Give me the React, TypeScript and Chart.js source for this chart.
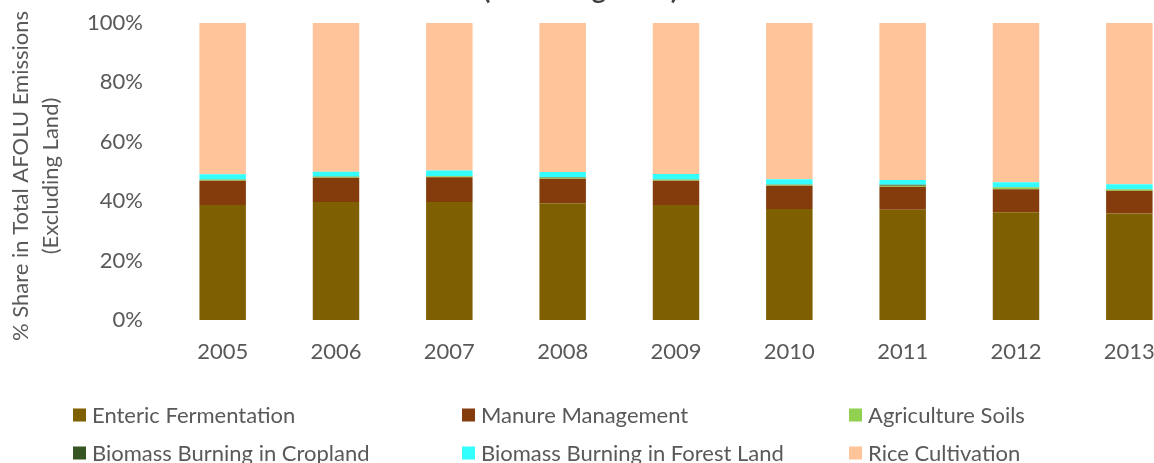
import React, { useEffect, useRef } from "react";
import { Chart, registerables } from "chart.js";

Chart.register(...registerables);

const years = ["2005", "2006", "2007", "2008", "2009", "2010", "2011", "2012", "2013"];
const enteric = [38.7, 39.7, 39.7, 39.3, 38.7, 37.4, 37.1, 36.3, 35.9];
const manure = [8.2, 8.2, 8.4, 8.3, 8.2, 7.8, 7.8, 7.7, 7.6];
const soils = [0.3, 0.3, 0.3, 0.3, 0.3, 0.3, 0.3, 0.6, 0.4];
const cropland = [0.1, 0.1, 0.1, 0.2, 0.1, 0.1, 0.3, 0.1, 0.1];
const forest = [1.8, 1.6, 1.8, 1.7, 1.9, 1.8, 1.6, 1.7, 1.7];
const rice = [50.9, 50.1, 49.7, 50.2, 50.8, 52.6, 52.9, 53.6, 54.3];

const seriesNames = [
  "Enteric Fermentation",
  "Manure Management",
  "Agriculture Soils",
  "Biomass Burning in Cropland",
  "Biomass Burning in Forest Land",
  "Rice Cultivation",
];
const seriesColors = ["#7F6000", "#843C0C", "#92D050", "#375623", "#33FFFF", "#FFC499"];
const yTicks = [0, 20, 40, 60, 80, 100];
const titleText = "(Excluding Land)";
const yTitleLines = ["% Share in Total AFOLU Emissions", "(Excluding Land)"];

const FONT = "Lato, 'Open Sans', sans-serif";
const TEXT = "#595959";
const FS = 22;

const decorPlugin = {
  id: "decor",
  afterDraw(chart: any) {
    const ctx = chart.ctx;
    ctx.save();
    // clipped title
    ctx.fillStyle = "#404040";
    ctx.font = `bold 27px ${FONT}`;
    ctx.textAlign = "left";
    ctx.textBaseline = "alphabetic";
    ctx.fillText(titleText, 483, -1);
    // y-axis title
    ctx.font = `${FS}px ${FONT}`;
    ctx.fillStyle = TEXT;
    ctx.textAlign = "center";
    const xs = [28, 58];
    yTitleLines.forEach((line, i) => {
      ctx.save();
      ctx.translate(xs[i], 176);
      ctx.rotate(-Math.PI / 2);
      ctx.fillText(line, 0, 0);
      ctx.restore();
    });
    // legend
    const cols = [73, 462, 849];
    const rows = [415, 453];
    ctx.font = `${FS}px ${FONT}`;
    ctx.textAlign = "left";
    ctx.textBaseline = "middle";
    chart.data.datasets.forEach((ds: any, i: number) => {
      const x = cols[i % 3];
      const y = rows[Math.floor(i / 3)];
      ctx.fillStyle = ds.backgroundColor;
      ctx.fillRect(x, y - 6.5, 13, 13);
      ctx.fillStyle = TEXT;
      ctx.fillText(ds.label, x + 19, y + 1);
    });
    ctx.restore();
  },
};

export default function App() {
  const ref = useRef<HTMLCanvasElement>(null);
  useEffect(() => {
    const allSeries = [enteric, manure, soils, cropland, forest, rice];
    const chart = new Chart(ref.current!, {
      type: "bar",
      data: {
        labels: years,
        datasets: allSeries.map((d, i) => ({
          label: seriesNames[i],
          data: d,
          backgroundColor: seriesColors[i],
          borderWidth: 0,
          barPercentage: 0.41,
          categoryPercentage: 1,
        })),
      },
      options: {
        animation: false,
        responsive: false,
        maintainAspectRatio: false,
        layout: { padding: { top: 23, right: 14, left: 0, bottom: 0 } },
        plugins: { legend: { display: false }, tooltip: { enabled: false }, title: { display: false } },
        scales: {
          x: {
            stacked: true,
            grid: { display: false, drawTicks: false },
            border: { display: false },
            ticks: { font: { family: FONT, size: FS }, color: TEXT, padding: 19 },
            afterFit: (s: any) => {
              s.height = 143;
              s.paddingLeft = 0;
              s.paddingRight = 0;
            },
          },
          y: {
            stacked: true,
            min: 0,
            max: 100,
            afterBuildTicks: (s: any) => {
              s.ticks = yTicks.map((v) => ({ value: v }));
            },
            grid: { display: false, drawTicks: false },
            border: { display: false },
            ticks: {
              font: { family: FONT, size: FS },
              color: TEXT,
              padding: 23,
              callback: (v: any) => v + "%",
            },
            afterFit: (s: any) => {
              s.width = 166;
              s.paddingTop = 0;
              s.paddingBottom = 0;
            },
          },
        },
      },
      plugins: [decorPlugin],
    });
    return () => chart.destroy();
  }, []);
  return (
    <div style={{ position: "fixed", top: 0, left: 0, width: 1154, height: 463, overflow: "hidden", background: "#fff" }}>
      <canvas ref={ref} width={1200} height={463} style={{ display: "block", width: 1200, height: 463 }} />
    </div>
  );
}
